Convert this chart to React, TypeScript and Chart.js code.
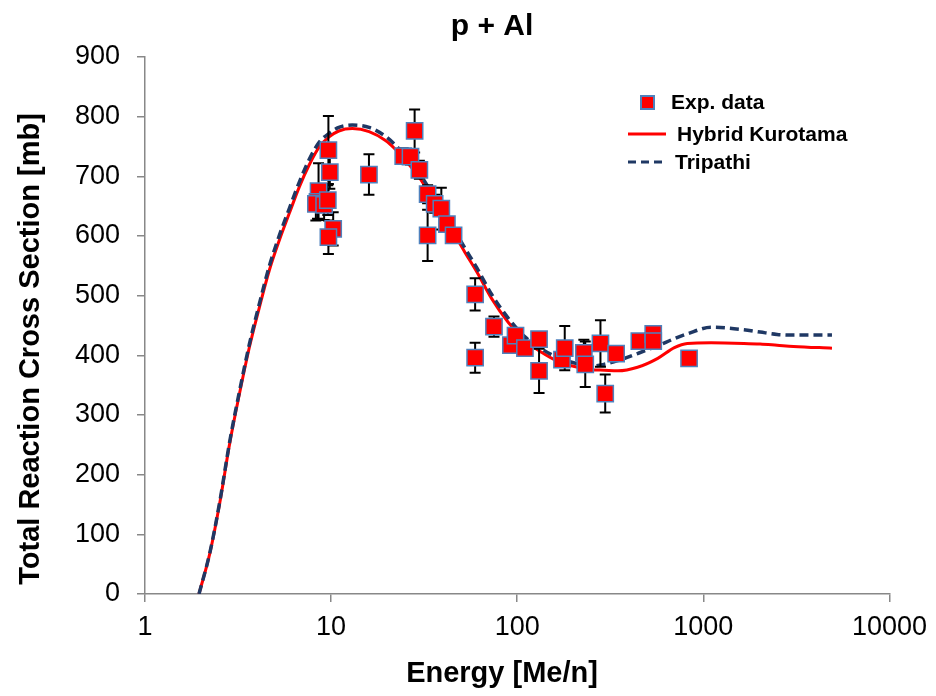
import React, { useEffect, useRef } from 'react';
import { Chart, registerables } from 'chart.js';

Chart.register(...registerables);

// Experimental data: energy [MeV/n], cross section [mb], error [mb]
const expEnergy = [8.56, 8.45, 8.28, 9.17, 9.6, 9.67, 9.84, 10.26, 9.67, 15.97, 24.4, 26.7, 28.1, 29.8, 33.0, 33.0, 36.0, 39.1, 41.9, 45.5, 59.4, 59.4, 75.0, 92.5, 97.9, 110, 131, 131, 174, 180, 228, 232, 280, 297, 340, 453, 538, 538, 838];
const expSigma = [675, 657, 654, 652, 660, 744, 707, 612, 598, 703, 734, 733, 776, 711, 670, 601, 654, 646, 620, 601, 502, 396, 448, 417, 433, 412, 427, 374, 393, 412, 404, 385, 420, 336, 403, 424, 436, 424, 395];
const expError = [47, 28, 28, 25, 25, 57, 28, 28, 28, 34, 13, 13, 36, 15, 15, 43, 15, 35, 10, 10, 27, 25, 17, 10, 10, 10, 10, 37, 10, 37, 22, 38, 39, 32, 10, 10, 10, 10, 5];

// Model curves
const modelEnergy = [1.95, 2.23, 2.52, 2.85, 3.22, 3.64, 4.12, 4.66, 5.27, 5.96, 6.74, 7.62, 8.62, 9.75, 11.0, 13.0, 16.0, 19.6, 22.2, 25.5, 29.5, 34.8, 42.7, 52.5, 60.6, 72.9, 89.6, 110, 135, 165, 211, 250, 294, 347, 443, 569, 699, 820, 1100, 1650, 2020, 2490, 3050, 4910];
const kurotama = [0, 68, 152, 252, 336, 414, 481, 543, 593, 638, 682, 719, 749, 766, 776, 780, 775, 760, 745, 724, 700, 665, 620, 572, 540, 495, 455, 425, 405, 390, 380, 376, 375, 374, 380, 395, 413, 420, 421, 420, 419, 417, 415, 412];
const tripathi = [0, 69, 154, 255, 340, 419, 487, 550, 601, 646, 690, 728, 757, 772, 782, 786, 782, 767, 752, 731, 707, 672, 627, 579, 547, 502, 462, 431, 411, 396, 386, 382, 385, 391, 403, 416, 428, 436, 447, 443, 439, 435, 434, 434];

const xTickValues = [1, 10, 100, 1000, 10000];
const yMin = 0;
const yMax = 900;
const yStep = 100;

const titleText = 'p + Al';
const xTitleText = 'Energy [Me/n]';
const yTitleText = 'Total Reaction Cross Section [mb]';
const legendLabels = ['Exp. data', 'Hybrid Kurotama', 'Tripathi'];

const RED = '#ff0000';
const NAVY = '#1f3864';
const MARKER_BORDER = '#4f81bd';
const FONT = "'Liberation Sans', Arial, sans-serif";

const errorBarPlugin = {
  id: 'errorBars',
  beforeDatasetDraw(chart: any, args: any) {
    if (args.index !== 0) return;
    const { ctx, scales } = chart;
    const x = scales.x;
    const y = scales.y;
    ctx.save();
    ctx.strokeStyle = '#000';
    ctx.lineWidth = 2;
    expEnergy.forEach((e, i) => {
      const px = x.getPixelForValue(e);
      const top = y.getPixelForValue(expSigma[i] + expError[i]);
      const bot = y.getPixelForValue(expSigma[i] - expError[i]);
      ctx.beginPath();
      ctx.moveTo(px, top);
      ctx.lineTo(px, bot);
      ctx.moveTo(px - 5.5, top);
      ctx.lineTo(px + 5.5, top);
      ctx.moveTo(px - 5.5, bot);
      ctx.lineTo(px + 5.5, bot);
      ctx.stroke();
    });
    ctx.restore();
  },
};

const textPlugin = {
  id: 'texts',
  afterDraw(chart: any) {
    const { ctx } = chart;
    ctx.save();
    ctx.fillStyle = '#000';
    // title
    ctx.font = `bold 30px ${FONT}`;
    ctx.textAlign = 'center';
    ctx.textBaseline = 'middle';
    ctx.fillText(titleText, 492, 27);
    // x title
    ctx.font = `bold 29px ${FONT}`;
    ctx.fillText(xTitleText, 502, 674);
    // y title
    ctx.save();
    ctx.translate(31, 349);
    ctx.rotate(-Math.PI / 2);
    ctx.fillText(yTitleText, 0, 0);
    ctx.restore();

    // legend
    ctx.font = `bold 21px ${FONT}`;
    ctx.textAlign = 'left';
    ctx.fillStyle = RED;
    ctx.fillRect(641, 96, 13, 13);
    ctx.strokeStyle = MARKER_BORDER;
    ctx.lineWidth = 2;
    ctx.strokeRect(641, 96, 13, 13);
    ctx.fillStyle = '#000';
    ctx.fillText(legendLabels[0], 671, 103);
    ctx.strokeStyle = RED;
    ctx.lineWidth = 3;
    ctx.beginPath();
    ctx.moveTo(628, 134);
    ctx.lineTo(666, 134);
    ctx.stroke();
    ctx.fillText(legendLabels[1], 677, 135);
    ctx.strokeStyle = NAVY;
    ctx.setLineDash([8, 5]);
    ctx.beginPath();
    ctx.moveTo(628, 162);
    ctx.lineTo(663, 162);
    ctx.stroke();
    ctx.setLineDash([]);
    ctx.fillText(legendLabels[2], 675, 163);
    ctx.restore();
  },
};

export default function App() {
  const canvasRef = useRef<HTMLCanvasElement | null>(null);

  useEffect(() => {
    const canvas = canvasRef.current;
    if (!canvas) return;
    const expPoints = expEnergy.map((e, i) => ({ x: e, y: expSigma[i] }));
    const kurPoints = modelEnergy.map((e, i) => ({ x: e, y: kurotama[i] }));
    const triPoints = modelEnergy.map((e, i) => ({ x: e, y: tripathi[i] }));

    const chart = new Chart(canvas, {
      type: 'scatter',
      data: {
        datasets: [
          {
            label: legendLabels[0],
            data: expPoints,
            pointStyle: 'rect',
            pointRadius: 11.5,
            pointBackgroundColor: RED,
            pointBorderColor: MARKER_BORDER,
            pointBorderWidth: 1.5,
            showLine: false,
          },
          {
            label: legendLabels[2],
            data: triPoints,
            showLine: true,
            borderColor: NAVY,
            borderWidth: 3.5,
            borderDash: [9, 5],
            pointRadius: 0,
            cubicInterpolationMode: 'monotone',
            fill: false,
          },
          {
            label: legendLabels[1],
            data: kurPoints,
            showLine: true,
            borderColor: RED,
            borderWidth: 3,
            pointRadius: 0,
            cubicInterpolationMode: 'monotone',
            fill: false,
          },
        ],
      },
      options: {
        responsive: false,
        animation: false,
        layout: { padding: { left: 0, top: 57, right: 44, bottom: 0 } },
        plugins: {
          legend: { display: false },
          title: { display: false },
          tooltip: { enabled: false },
        },
        scales: {
          x: {
            type: 'logarithmic',
            min: 1,
            max: 10000,
            afterBuildTicks: (scale: any) => {
              scale.ticks = xTickValues.map((v) => ({ value: v }));
            },
            afterFit: (scale: any) => {
              scale.height = 102;
            },
            ticks: {
              callback: (v: any) => String(v),
              font: { family: FONT, size: 27 },
              color: '#000',
              padding: 9,
              maxRotation: 0,
              autoSkip: false,
            },
            grid: { drawOnChartArea: false, drawTicks: true, tickLength: 8, color: '#888888', lineWidth: 1.5 },
            border: { display: true, color: '#888888', width: 1.5 },
          },
          y: {
            type: 'linear',
            min: yMin,
            max: yMax,
            afterFit: (scale: any) => {
              scale.width = 145;
            },
            ticks: {
              stepSize: yStep,
              font: { family: FONT, size: 27 },
              color: '#000',
              padding: 17,
            },
            grid: { drawOnChartArea: false, drawTicks: true, tickLength: 8, color: '#888888', lineWidth: 1.5 },
            border: { display: true, color: '#888888', width: 1.5 },
          },
        },
      },
      plugins: [errorBarPlugin, textPlugin],
    });
    return () => chart.destroy();
  }, []);

  return (
    <div style={{ position: 'absolute', left: 0, top: 0, width: 936, height: 696, background: '#fff' }}>
      <canvas ref={canvasRef} width={936} height={696} style={{ display: 'block' }} />
    </div>
  );
}
